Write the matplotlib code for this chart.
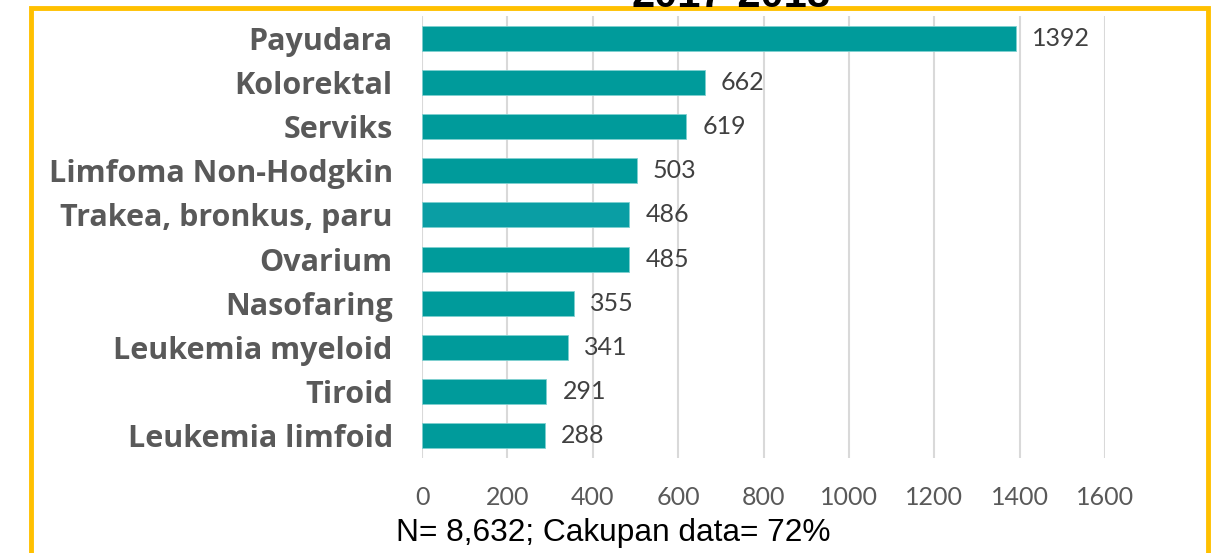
import matplotlib.pyplot as plt
from matplotlib.patches import Rectangle

# data (top to bottom)
categories = ['Payudara', 'Kolorektal', 'Serviks', 'Limfoma Non-Hodgkin',
              'Trakea, bronkus, paru', 'Ovarium', 'Nasofaring',
              'Leukemia myeloid', 'Tiroid', 'Leukemia limfoid']
values = [1392, 662, 619, 503, 486, 485, 355, 341, 291, 288]
xticks = [0, 200, 400, 600, 800, 1000, 1200, 1400, 1600]
title = '2017-2018'
footer = 'N= 8,632; Cakupan data= 72%'

W, H = 1218, 553
fig = plt.figure(figsize=(W / 100, H / 100), dpi=100)

# axes placed in pixel terms
x0, x1 = 422, 1105
y_top, y_bot = 16, 458
ax = fig.add_axes([x0 / W, 1 - y_bot / H, (x1 - x0) / W, (y_bot - y_top) / H])

colors = ['#009B9B'] * len(values)
colors[4] = '#0A9EA4'
ypos = list(range(len(values)))
ax.barh(ypos, values, height=0.57, color=colors, edgecolor='#7FD0D0',
        linewidth=0.6, zorder=3)

ax.set_ylim(len(values) - 0.5, -0.5)
ax.set_xlim(0, 1600)
ax.set_xticks(xticks)
ax.set_xticklabels([str(t) for t in xticks], family='Lato', fontsize=18,
                   color='#595959')
ax.set_yticks(ypos)
ax.set_yticklabels(categories, family='Open Sans', fontweight='bold',
                   fontsize=22, color='#595959')
ax.tick_params(axis='both', length=0)
ax.tick_params(axis='x', pad=20)
ax.tick_params(axis='y', pad=21)
ax.grid(axis='x', color='#D9D9D9', linewidth=1.5, zorder=0)
for s in ax.spines.values():
    s.set_visible(False)

for y, v in zip(ypos, values):
    ax.text(v + 38, y, str(v), va='center', ha='left', family='Lato',
            fontsize=18, color='#404040')

# yellow frame and cropped title
fig.patches.append(Rectangle((31 / W, -0.05), (1208 - 31) / W, 1.05 - 8 / H,
                             transform=fig.transFigure, fill=False,
                             edgecolor='#FFC000', linewidth=3.5))
fig.text(731 / W, 1 - 7 / H, title, ha='center', va='baseline',
         family='Liberation Sans', fontweight='bold', fontsize=30, color='black')
fig.text(613 / W, 1 - 533 / H, footer, ha='center', va='center',
         family='Liberation Sans', fontsize=22.8, color='black')

fig.savefig('out.png', dpi=100)
